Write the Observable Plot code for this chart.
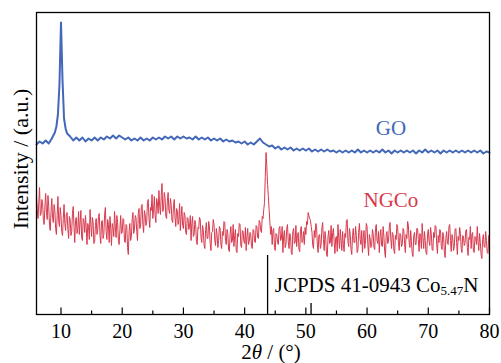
<!DOCTYPE html>
<html><head><meta charset="utf-8">
<script src="https://cdn.jsdelivr.net/npm/d3@7"></script>
<script src="https://cdn.jsdelivr.net/npm/@observablehq/plot@0.6"></script>
<style>body{margin:0;background:#fff} svg{display:block}</style>
</head><body><div id="chart"></div>
<script>
// GO scan: regular grid from 6° in steps of 0.5°
const goStart = 6, goStep = 0.5;
const goIntensity = [
  170,173,171,174,171,176,182,200,292,196,181,178,174,177,174,177,173,176,174,177,
  174,177,175,178,176,179,176,179,177,175,177,174,176,174,177,174,176,174,177,175,
  177,175,178,176,178,175,178,176,178,176,177,175,178,175,177,175,177,174,176,174,
  176,173,175,173,174,172,173,171,173,170,172,170,173,176,172,170,168,169,166,168,
  165,167,165,167,164,166,164,166,164,166,163,165,163,165,163,165,163,164,162,164,
  162,164,162,164,162,165,162,164,162,164,162,164,162,165,162,164,161,164,162,164,
  162,164,162,164,161,164,162,165,162,164,162,164,161,164,162,164,162,164,162,164,
  162,164,162,164,162,164,161,163,162
];
// extra GO points read around the (001) peak
const goPeakAngles = [9.25, 9.75, 10.25, 10.75];
const goPeakIntensity = [188, 230, 234, 186];

// NGCo scan: regular grid from 6° in steps of 0.125°
const ngcoStart = 6, ngcoStep = 0.125;
const ngcoIntensity = [
  118,105,96,112,127,99,101,115,112,94,90,108,121,102,95,119,108,89,84,103,116,97,92,110,104,86,80,99,118,93,88,107,99,83,79,96,110,91,84,100,
  102,85,76,98,95,79,83,101,108,88,72,94,97,81,86,103,80,92,104,77,74,96,93,82,99,87,70,91,88,75,105,90,78,97,92,71,73,89,96,80,
  84,98,101,79,71,93,94,76,80,100,107,83,75,95,90,72,98,86,69,91,87,78,103,88,77,99,92,74,70,85,99,81,82,96,95,73,72,90,88,67,
  60,83,91,74,78,95,102,81,85,99,97,83,74,101,106,86,88,108,110,90,82,104,100,89,93,112,115,96,87,107,104,120,96,105,118,99,92,116,112,101,
  124,108,100,119,131,103,105,122,117,98,96,113,122,104,101,116,110,94,92,109,115,97,88,106,104,90,95,111,84,98,108,89,86,102,99,82,80,97,96,85,
  88,99,74,91,98,78,80,94,90,73,70,87,86,97,95,77,72,89,84,69,66,85,92,76,76,93,88,71,64,82,83,95,90,74,69,86,80,67,74,88,
  86,70,66,83,79,93,92,74,70,85,81,65,63,80,88,72,74,90,68,79,85,64,62,81,78,91,90,69,67,84,83,73,71,87,64,78,86,70,73,82,
  80,68,66,85,84,73,72,89,88,77,76,94,92,84,82,98,96,105,112,138,162,148,130,118,105,92,80,88,70,84,86,67,64,81,80,72,70,86,88,74,
  76,88,62,79,84,67,70,86,90,73,66,81,78,62,60,83,86,71,72,89,68,80,82,65,63,85,88,72,74,83,70,87,80,93,90,102,99,96,94,88,
  82,69,66,84,77,91,88,70,62,79,80,66,70,87,92,75,64,83,76,60,58,78,84,71,72,89,68,82,86,73,61,77,78,63,90,76,66,85,74,64,
  83,70,63,81,77,94,95,73,68,86,80,65,60,79,86,72,72,88,79,62,64,82,91,75,70,84,62,77,84,66,74,91,88,70,59,80,76,67,69,85,
  81,67,65,86,90,74,71,83,62,78,85,69,68,88,78,63,57,80,83,71,73,87,92,76,66,82,80,64,61,79,75,90,87,72,64,81,79,68,70,86,
  84,71,62,80,76,93,89,72,67,84,73,61,58,79,82,70,70,86,86,75,63,81,78,66,91,77,66,83,74,62,60,80,85,73,69,87,80,65,64,82,
  77,89,88,70,61,79,72,85,84,68,65,82,79,63,57,76,83,71,70,88,90,74,63,80,76,64,68,85,86,72,60,78,74,87,81,66,62,79,78,69,
  71,84,85,67,59,77,75,88,66,80,82,63,62,78,77,70,88,73,64,81,72,60,56,75,80,68,67,83,74,62,61,79,76
];

// JCPDS 41-0943 Co5.47N reference sticks
const jcpdsAngles = [43.75, 50.85];
const jcpdsIntensity = [59, 11];

const majorTicks = [10, 20, 30, 40, 50, 60, 70, 80];
const minorTicks = [15, 25, 35, 45, 55, 65, 75];

const seriesNames = ["GO", "NGCo"];
const seriesColors = ["#4367b9", "#d8394d"];
const labelAngles = [63.9, 63.9];
const labelIntensity = [186, 114];

const go = goIntensity.map((v, i) => ({x: goStart + i * goStep, y: v}))
  .concat(goPeakAngles.map((a, i) => ({x: a, y: goPeakIntensity[i]})))
  .sort((a, b) => a.x - b.x);
const ngco = ngcoIntensity.map((v, i) => ({x: ngcoStart + i * ngcoStep, y: v}));
const sticks = jcpdsAngles.map((a, i) => ({x: a, y: jcpdsIntensity[i]}));
const labels = seriesNames.map((n, i) => ({name: n, x: labelAngles[i], y: labelIntensity[i], c: seriesColors[i]}));

const font = "'Liberation Serif', 'Times New Roman', serif";
const plot = Plot.plot({
  width: 501, height: 363,
  marginLeft: 36, marginRight: 12, marginTop: 12, marginBottom: 49,
  x: {domain: [6, 80]},
  y: {domain: [0, 302], axis: null},
  style: {fontFamily: font, background: "white", color: "black"},
  marks: [
    Plot.line(ngco, {x: "x", y: "y", stroke: seriesColors[1], strokeWidth: 1}),
    Plot.line(go, {x: "x", y: "y", stroke: seriesColors[0], strokeWidth: 2}),
    Plot.ruleX(sticks, {x: "x", y1: 0, y2: "y", stroke: "black", strokeWidth: 1.3}),
    Plot.tickX(majorTicks, {x: d => d, insetTop: 295.5, stroke: "black", strokeWidth: 1.2}),
    Plot.tickX(minorTicks, {x: d => d, insetTop: 298.5, stroke: "black", strokeWidth: 1.2}),
    Plot.axisX(majorTicks, {tickSize: 0, tickPadding: 9, fontSize: 20, label: null, fill: "black"}),
    Plot.frame({stroke: "black", strokeWidth: 1.3}),
    Plot.text(labels, {x: "x", y: "y", text: "name", fill: "c", fontSize: 21, fontFamily: font})
  ]
});
document.getElementById("chart").appendChild(plot);

const xs = plot.scale("x"), ys = plot.scale("y");
const svg = d3.select(plot);
// serif tick labels
svg.selectAll("text").style("font-family", font);
// y title
svg.append("text")
  .attr("transform", "translate(28,159) rotate(-90)")
  .attr("text-anchor", "middle")
  .style("font-family", font).attr("font-size", 22).attr("fill", "black")
  .text("Intensity / (a.u.)");
// x title
const xt = svg.append("text")
  .attr("x", 271).attr("y", 358.5)
  .attr("text-anchor", "middle")
  .style("font-family", font).attr("font-size", 21).attr("fill", "black");
xt.append("tspan").text("2");
xt.append("tspan").attr("font-style", "italic").text("θ");
xt.append("tspan").text(" / (°)");
// JCPDS annotation
const jt = svg.append("text")
  .attr("x", xs.apply(45.0)).attr("y", ys.apply(22))
  .attr("text-anchor", "start")
  .style("font-family", font).attr("font-size", 21).attr("fill", "black");
jt.append("tspan").text("JCPDS 41-0943 Co");
jt.append("tspan").attr("font-size", 13).attr("dy", 3).text("5.47");
jt.append("tspan").attr("dy", -3).text("N");
</script>
</body></html>
